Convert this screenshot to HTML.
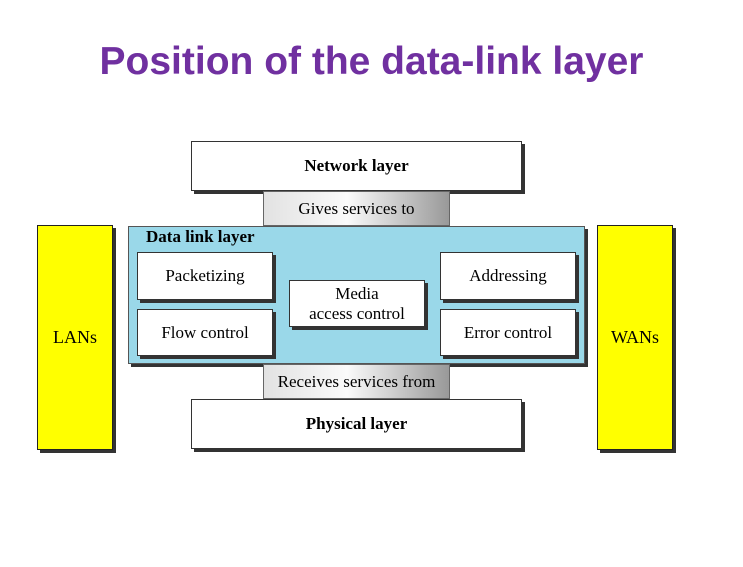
<!DOCTYPE html>
<html><head><style>
body{margin:0;width:743px;height:567px;background:#fff;position:relative;overflow:hidden;font-family:"Liberation Serif",serif}
.a{position:absolute;box-sizing:border-box}
.t{display:flex;align-items:center;justify-content:center;text-align:center}
.w{background:#fff;border:1px solid #333;box-shadow:3px 3px 0 #333}
.g{background:linear-gradient(90deg,#e2e2e2,#fafafa 45%,#999);border:1px solid #666}
.y{background:#ffff00;border:1px solid #222;box-shadow:3px 3px 0 #333;font-size:18px}
</style></head><body>
<div class="a t" style="left:0;top:35px;width:743px;height:54px;color:#7030a0;font:bold 39px 'Liberation Sans',sans-serif">Position of the data-link layer</div>
<div class="a y t" style="left:37px;top:225px;width:76px;height:225px">LANs</div>
<div class="a y t" style="left:597px;top:225px;width:76px;height:225px">WANs</div>
<div class="a w t" style="left:191px;top:141px;width:331px;height:50px;font-weight:bold;font-size:17px">Network layer</div>
<div class="a g t" style="left:263px;top:191px;width:187px;height:35px;font-size:17px">Gives services to</div>
<div class="a" style="left:128px;top:226px;width:457px;height:138px;background:#9ad8e9;border:1px solid #555;box-shadow:3px 3px 0 #333"></div>
<div class="a" style="left:146px;top:227px;font-weight:bold;font-size:17px">Data link layer</div>
<div class="a w t" style="left:137px;top:252px;width:136px;height:48px;font-size:17px">Packetizing</div>
<div class="a w t" style="left:137px;top:309px;width:136px;height:47px;font-size:17px">Flow control</div>
<div class="a w t" style="left:440px;top:252px;width:136px;height:48px;font-size:17px">Addressing</div>
<div class="a w t" style="left:440px;top:309px;width:136px;height:47px;font-size:17px">Error control</div>
<div class="a w t" style="left:289px;top:280px;width:136px;height:47px;font-size:17px;line-height:20px">Media<br>access control</div>
<div class="a g t" style="left:263px;top:364px;width:187px;height:35px;font-size:17px;white-space:nowrap">Receives services from</div>
<div class="a w t" style="left:191px;top:399px;width:331px;height:50px;font-weight:bold;font-size:17px">Physical layer</div>
</body></html>
